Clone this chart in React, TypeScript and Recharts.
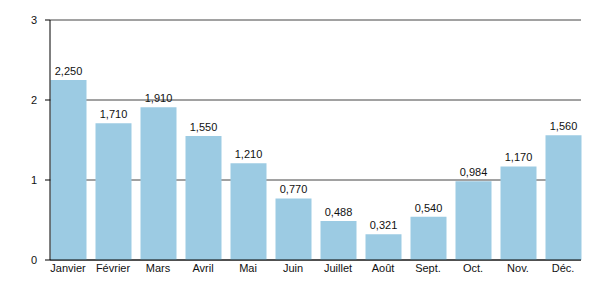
import { BarChart, Bar, XAxis, YAxis, CartesianGrid, LabelList } from "recharts";

const months = ["Janvier", "Février", "Mars", "Avril", "Mai", "Juin", "Juillet", "Août", "Sept.", "Oct.", "Nov.", "Déc."];
const values = [2.25, 1.71, 1.91, 1.55, 1.21, 0.77, 0.488, 0.321, 0.54, 0.984, 1.17, 1.56];
const yTicks = [0, 1, 2, 3];

const data = months.map((m, i) => ({ month: m, value: values[i] }));

// French-style decimals: 2.25 -> "2,250"
const fmt = (v: unknown) => Number(v).toFixed(3).replace(".", ",");

export default function App() {
  return (
    <div style={{ position: "absolute", left: 0, top: 0, fontFamily: "'Liberation Sans', Arial, sans-serif" }}>
      <BarChart
        width={600}
        height={300}
        data={data}
        margin={{ top: 20, right: 19, bottom: 10, left: 0 }}
        barSize={36}
      >
        <CartesianGrid horizontal vertical={false} stroke="#444" strokeWidth={1} />
        <XAxis
          dataKey="month"
          height={30}
          tickLine={false}
          tickSize={2}
          tickMargin={2}
          axisLine={{ stroke: "#000" }}
          tick={{ fontSize: 11, fill: "#111" }}
          interval={0}
          padding={{ left: -4.5, right: -4.5 }}
        />
        <YAxis
          width={50}
          domain={[0, 3]}
          ticks={yTicks}
          tickSize={5}
          tickMargin={8}
          axisLine={{ stroke: "#000" }}
          tickLine={{ stroke: "#000" }}
          tick={{ fontSize: 11, fill: "#111" }}
        />
        <Bar dataKey="value" fill="#9ccbe3" isAnimationActive={false}>
          <LabelList dataKey="value" position="top" formatter={fmt} style={{ fontSize: 11, fill: "#111" }} />
        </Bar>
      </BarChart>
    </div>
  );
}
